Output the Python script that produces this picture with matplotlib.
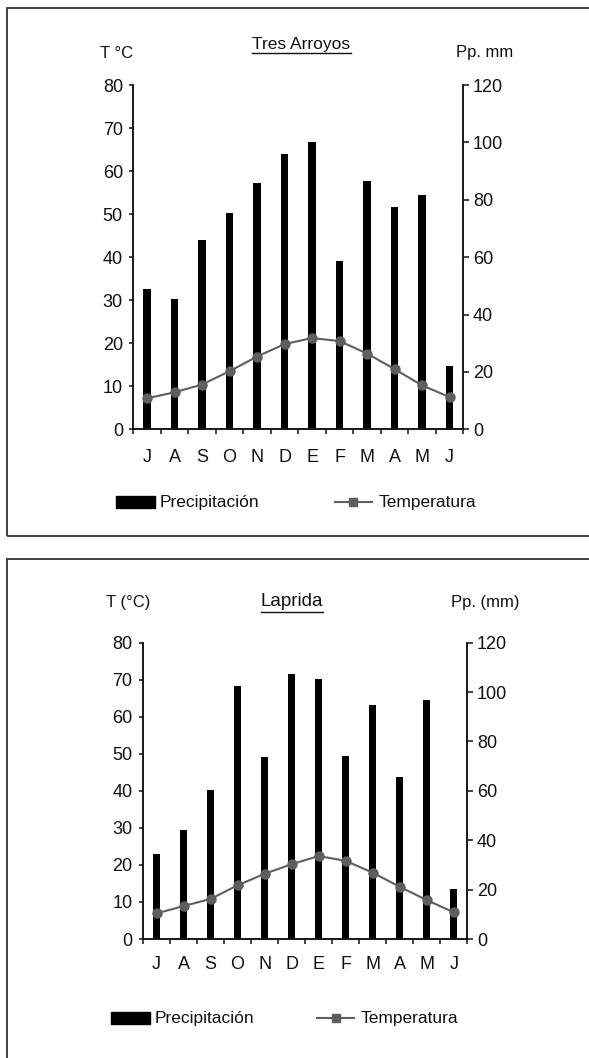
import numpy as np
import matplotlib
matplotlib.use('Agg')
import matplotlib.pyplot as plt
from matplotlib.patches import Rectangle
from matplotlib.lines import Line2D

plt.rcParams['font.family'] = ['Liberation Sans', 'DejaVu Sans']

W, H = 589, 1058

months = ['J', 'A', 'S', 'O', 'N', 'D', 'E', 'F', 'M', 'A', 'M', 'J']

# Tres Arroyos
ta_temp = [7.2, 8.6, 10.4, 13.5, 16.9, 19.8, 21.2, 20.5, 17.6, 14.0, 10.2, 7.5]
ta_precip = [49, 45.5, 66, 75.5, 86, 96, 100, 58.5, 86.5, 77.5, 81.5, 22]

# Laprida
la_temp = [6.9, 8.9, 10.8, 14.5, 17.6, 20.2, 22.4, 21.1, 17.9, 14.1, 10.5, 7.2]
la_precip = [34.5, 44, 60.5, 102.5, 73.8, 107.4, 105.5, 74.3, 94.6, 65.7, 96.9, 20.4]

temp_ticks = [0, 10, 20, 30, 40, 50, 60, 70, 80]
precip_ticks = [0, 20, 40, 60, 80, 100, 120]

INK = '#111111'
GREY = '#5e5e5e'


def fx(x):
    return x / W


def fy(y):
    return 1 - y / H


fig = plt.figure(figsize=(W / 100, H / 100), dpi=100, facecolor='white')


def panel(box, title, left_lbl, right_lbl, temp, precip, head_y, title_y, month_pad,
          legend_y, leg_rect_x, leg_line_x, left_lbl_x, title_x, right_lbl_x, title_size):
    l, t, r, b = box
    ax = fig.add_axes([fx(l), fy(b), fx(r - l), (b - t) / H])
    ax2 = ax.twinx()
    x = np.arange(len(months))

    # bars on the precipitation axis, line on temperature axis drawn on top
    ax2.bar(x, precip, width=0.26, color='black', zorder=2)
    ax.plot(x, temp, color=GREY, lw=1.5, marker='o', ms=6.5, mfc=GREY, mec=GREY, zorder=3)
    ax.set_zorder(ax2.get_zorder() + 1)
    ax.patch.set_visible(False)

    ax.set_xlim(-0.5, len(months) - 0.5)
    ax.set_ylim(0, 80)
    ax2.set_ylim(0, 120)
    ax.set_yticks(temp_ticks)
    ax2.set_yticks(precip_ticks)

    ax.set_xticks(x)
    ax.set_xticklabels(months, fontsize=13, color=INK)
    ax.set_xticks(np.arange(-0.5, len(months)), minor=True)
    ax.tick_params(axis='x', which='major', length=0, pad=month_pad)
    ax.tick_params(axis='x', which='minor', length=3.5, width=1.1, color=INK, direction='out')
    ax.tick_params(axis='y', length=3, width=1.1, color=INK, labelsize=13, labelcolor=INK, pad=4.5)
    ax2.tick_params(axis='y', length=4, width=1.1, color=INK, labelsize=13, labelcolor=INK, pad=3)

    for a in (ax, ax2):
        a.spines['top'].set_visible(False)
        for s in ('left', 'right', 'bottom'):
            a.spines[s].set_color(INK)
            a.spines[s].set_linewidth(1.1)

    fig.text(fx(left_lbl_x), fy(head_y), left_lbl, fontsize=12, color=INK, ha='center', va='center')
    fig.text(fx(right_lbl_x), fy(head_y), right_lbl, fontsize=12, color=INK, ha='center', va='center')
    tt = fig.text(fx(title_x), fy(title_y), title, fontsize=title_size, color=INK, ha='center', va='center')

    # legend drawn by hand
    fig.patches.append(Rectangle((fx(leg_rect_x), fy(legend_y + 6)), fx(39), 12 / H,
                                 transform=fig.transFigure, color='black'))
    fig.text(fx(leg_rect_x + 44), fy(legend_y), 'Precipitación', fontsize=12.5, color=INK,
             ha='left', va='center')
    fig.lines.append(Line2D([fx(leg_line_x), fx(leg_line_x + 37)], [fy(legend_y), fy(legend_y)],
                            transform=fig.transFigure, color=GREY, lw=1.5))
    fig.lines.append(Line2D([fx(leg_line_x + 18.5)], [fy(legend_y)], transform=fig.transFigure,
                            color=GREY, marker='s', ms=6, ls='none'))
    fig.text(fx(leg_line_x + 44), fy(legend_y), 'Temperatura', fontsize=12.5, color=INK,
             ha='left', va='center')
    return tt


t1 = panel((133.3, 85, 463.3, 429.3), 'Tres Arroyos', 'T °C', 'Pp. mm', ta_temp, ta_precip,
           53, 44, 14, 502, 116, 335, 117, 301.5, 485, 12.5)
t2 = panel((143, 642.7, 467.3, 939), 'Laprida', 'T (°C)', 'Pp. (mm)', la_temp, la_precip,
           602, 602, 12, 1018, 111, 317, 128, 292, 485.5, 13.5)

# panel frames
fig.patches.append(Rectangle((fx(7), fy(536)), fx(600), (536 - 8) / H, transform=fig.transFigure,
                             fill=False, ec='#333333', lw=1.3))
fig.patches.append(Rectangle((fx(7), fy(1070)), fx(600), (1070 - 559) / H, transform=fig.transFigure,
                             fill=False, ec='#333333', lw=1.3))

# underline titles
fig.canvas.draw()
r = fig.canvas.get_renderer()
for tt in (t1, t2):
    bb = tt.get_window_extent(renderer=r)
    yline = bb.y0 - 1.0
    fig.lines.append(Line2D([bb.x0 / W, bb.x1 / W], [yline / H, yline / H],
                            transform=fig.transFigure, color=INK, lw=1.0))

fig.savefig('out.png', dpi=100, facecolor='white')
